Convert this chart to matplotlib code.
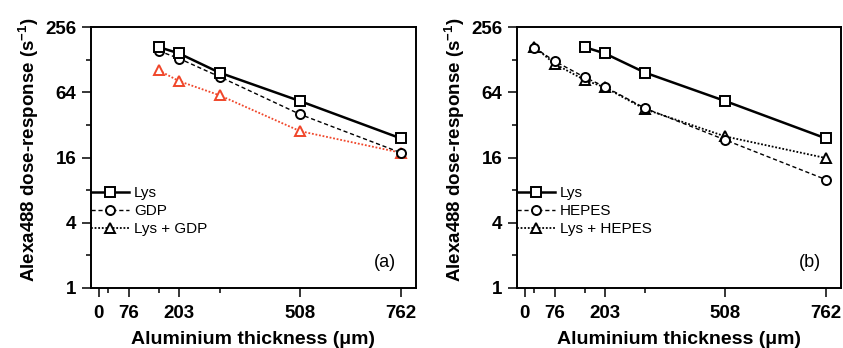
import matplotlib
matplotlib.use('Agg')
import matplotlib.pyplot as plt
from matplotlib.lines import Line2D

plt.rcParams['font.family'] = ['Liberation Sans', 'DejaVu Sans']

# aluminium thickness (um)
thick_lys = [152, 203, 305, 508, 762]
thick_all = [25, 76, 152, 203, 305, 508, 762]

# dose-response (s^-1)
lys = [167, 146, 97, 53, 24]
gdp = [154, 131, 89, 40, 17.7]
lys_gdp = [102, 81, 60, 28, 17.7]
hepes = [165, 124, 88, 72, 45.5, 23.2, 10]
lys_hepes = [168, 117, 83, 71, 44.6, 25, 15.8]

major_x = [0, 76, 203, 508, 762]
minor_x = [25, 152, 305]
major_y = [1, 4, 16, 64, 256]
minor_y = [2, 8, 32, 128]

red = '#f0462a'

fig = plt.figure(figsize=(8.43, 3.48), dpi=100)
ax_a = fig.add_axes([91/843, 1-288/348, 325/843, 261/348])
ax_b = fig.add_axes([517/843, 1-288/348, 324/843, 261/348])

sq = dict(marker='s', ms=6.5, mfc='white', mew=1.4)
ci = dict(marker='o', ms=6.5, mfc='white', mew=1.4)
tr = dict(marker='^', ms=7.5, mfc='white', mew=1.4)
dash = (0, (3, 2))
dot = (0, (1, 1))


def style(ax, names, tag):
    ax.set_yscale('log', base=2)
    ax.set_ylim(1, 256)
    ax.set_xlim(-19, 800)
    ax.set_yticks(major_y)
    ax.set_yticklabels([str(v) for v in major_y])
    ax.set_yticks(minor_y, minor=True)
    ax.set_yticklabels([], minor=True)
    ax.set_xticks(major_x)
    ax.set_xticks(minor_x, minor=True)
    for s in ax.spines.values():
        s.set_linewidth(1.4)
    ax.tick_params(which='major', length=6.5, width=1.1, labelsize=13.5, pad=4)
    ax.tick_params(axis='x', which='major', pad=6)
    ax.tick_params(which='minor', length=3.5, width=1.1)
    for lab in ax.get_xticklabels() + ax.get_yticklabels():
        lab.set_fontweight('bold')
    ax.set_ylabel('Alexa488 dose-response (s$^{\\mathregular{-1}}$)', fontsize=13.5, fontweight='bold')
    ax.set_xlabel('Aluminium thickness (\u03bcm)', fontsize=14, fontweight='bold')
    ax.yaxis.set_label_coords(-0.155, 0.53)
    ax.xaxis.set_label_coords(0.5, -0.165)
    ax.text(0.905, 0.096, tag, transform=ax.transAxes, fontsize=13, ha='center', va='center')
    handles = [
        Line2D([], [], color='black', lw=1.8, **sq),
        Line2D([], [], color='black', lw=1, ls=dash, **ci),
        Line2D([], [], color='black', lw=1.3, ls=dot, **tr),
    ]
    ax.legend(handles, names, loc='upper left', bbox_to_anchor=(0, 0.39),
              frameon=False, fontsize=11, borderpad=0, borderaxespad=0,
              handlelength=2.5, handletextpad=0.3, labelspacing=0.25, numpoints=1)


# (a)
ax_a.plot(thick_lys, lys, color='black', lw=1.8, zorder=4, **sq)
ax_a.plot(thick_lys, gdp, color='black', lw=1, ls=dash, zorder=3, **ci)
ax_a.plot(thick_lys, lys_gdp, color=red, mec=red, lw=1.3, ls=dot, zorder=2, **tr)
style(ax_a, ['Lys', 'GDP', 'Lys + GDP'], '(a)')

# (b)
ax_b.plot(thick_lys, lys, color='black', lw=1.8, zorder=4, **sq)
ax_b.plot(thick_all, hepes, color='black', lw=1, ls=dash, zorder=3, **ci)
ax_b.plot(thick_all, lys_hepes, color='black', lw=1.3, ls=dot, zorder=2, **tr)
style(ax_b, ['Lys', 'HEPES', 'Lys + HEPES'], '(b)')

fig.savefig('out.png', dpi=100)
